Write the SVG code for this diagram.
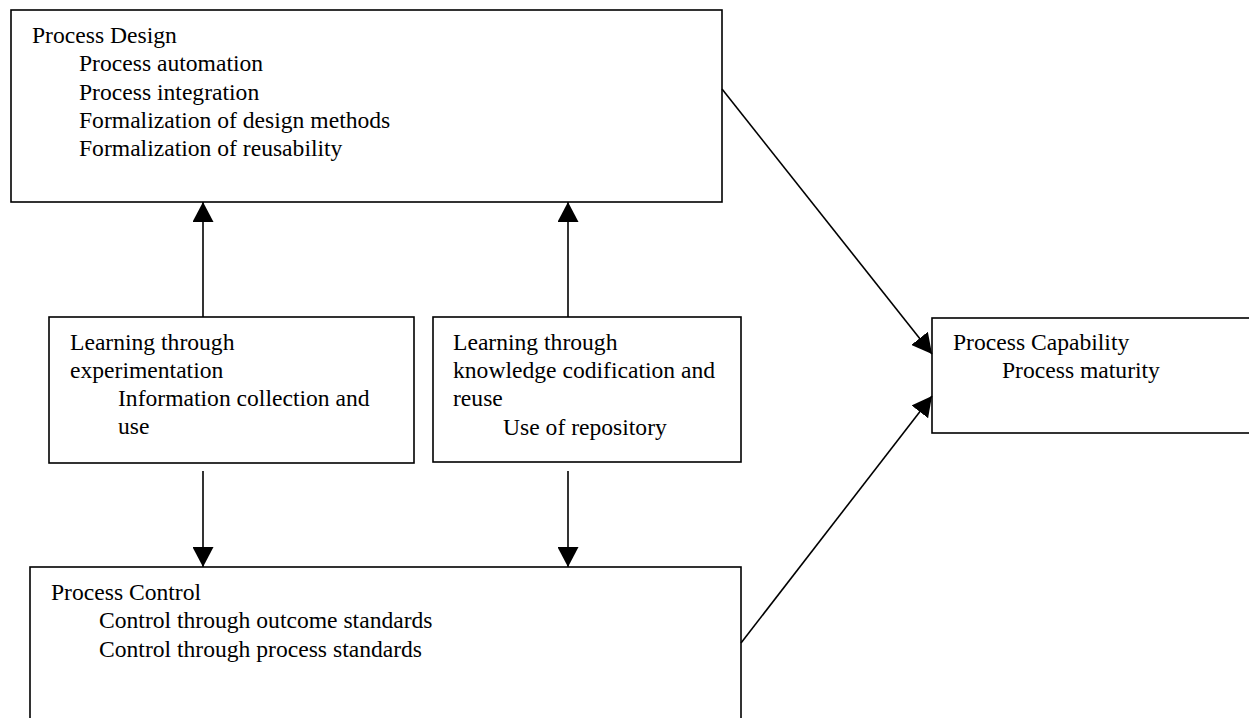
<svg xmlns="http://www.w3.org/2000/svg" width="1249" height="718" viewBox="0 0 1249 718">
  <style>
    .box { fill: #ffffff; stroke: #000000; stroke-width: 1.6; }
    .lbl { font-family: "Liberation Serif", "Times New Roman", serif; font-size: 23.6px; fill: #000000; }
    .conn { stroke: #000000; stroke-width: 1.6; fill: none; marker-end: url(#arrow); }
  </style>
  <defs>
    <marker id="arrow" markerUnits="userSpaceOnUse" markerWidth="20" markerHeight="21" refX="20" refY="10.5" orient="auto">
      <path d="M0,0 L20,10.5 L0,21 Z" fill="#000000"/>
    </marker>
  </defs>
  <rect width="1249" height="718" fill="#ffffff"/>

  <g id="process-design">
    <rect class="box" x="11" y="10" width="711" height="192"/>
    <text class="lbl" x="32" y="43">Process Design</text>
    <text class="lbl" x="79" y="71">Process automation</text>
    <text class="lbl" x="79" y="99.5">Process integration</text>
    <text class="lbl" x="79" y="128">Formalization of design methods</text>
    <text class="lbl" x="79" y="156">Formalization of reusability</text>
  </g>

  <g id="learning-experimentation">
    <rect class="box" x="49" y="317" width="365" height="146"/>
    <text class="lbl" x="70" y="350">Learning through</text>
    <text class="lbl" x="70" y="378">experimentation</text>
    <text class="lbl" x="118" y="406">Information collection and</text>
    <text class="lbl" x="118" y="434">use</text>
  </g>

  <g id="learning-codification">
    <rect class="box" x="433" y="317" width="308" height="145"/>
    <text class="lbl" x="453" y="350">Learning through</text>
    <text class="lbl" x="453" y="378">knowledge codification and</text>
    <text class="lbl" x="453" y="406">reuse</text>
    <text class="lbl" x="503" y="435">Use of repository</text>
  </g>

  <g id="process-capability">
    <rect class="box" x="932" y="318" width="330" height="115"/>
    <text class="lbl" x="953" y="350">Process Capability</text>
    <text class="lbl" x="1002" y="378">Process maturity</text>
  </g>

  <g id="process-control">
    <rect class="box" x="30" y="567" width="711" height="170"/>
    <text class="lbl" x="51" y="600">Process Control</text>
    <text class="lbl" x="99" y="628">Control through outcome standards</text>
    <text class="lbl" x="99" y="657">Control through process standards</text>
  </g>

  <g id="connectors">
    <line class="conn" x1="203" y1="317" x2="203" y2="202"/>
    <line class="conn" x1="568" y1="317" x2="568" y2="202"/>
    <line class="conn" x1="203" y1="471" x2="203" y2="567"/>
    <line class="conn" x1="568" y1="471" x2="568" y2="567"/>
    <line class="conn" x1="722" y1="89" x2="932" y2="354"/>
    <line class="conn" x1="741" y1="643" x2="932" y2="396"/>
  </g>
</svg>
